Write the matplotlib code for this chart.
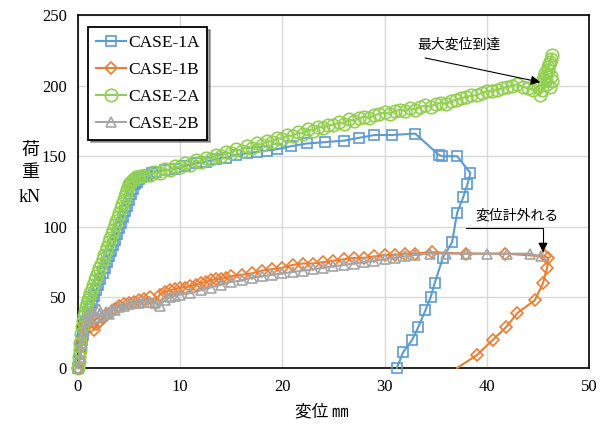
import matplotlib.pyplot as plt

plt.rcParams['font.family'] = ['Liberation Serif', 'DejaVu Sans']
jp = ['Noto Sans CJK JP', 'DejaVu Sans']

# CASE-1A
x1a = [0, 0.1, 0.2, 0.3, 0.4, 0.5, 0.6, 0.8, 1.0, 1.2, 1.4, 1.6, 1.8, 2.0, 2.2, 2.4, 2.6, 2.8, 3.0,
       3.2, 3.4, 3.6, 3.8, 4.0, 4.2, 4.4, 4.6, 4.8, 5.0, 5.2, 5.4, 5.6, 5.8, 6.0, 6.2, 6.5, 6.8, 7.2,
       7.6, 8.5, 9.5, 10.5, 11.5, 12.5, 13.5, 14.5, 15.5, 16.5, 17.5, 18.5, 19.5, 20.8,
       22.4, 24.2, 26.0, 27.5, 29.0, 30.7, 33.0, 35.3, 35.6, 37.1, 38.4, 38.1, 37.7, 37.1, 36.6, 35.7,
       34.9, 34.5, 34.0, 33.3, 32.7, 31.8, 31.2]
y1a = [0, 5, 10, 15, 20, 24, 28, 33, 38, 42, 47, 51, 55, 59, 63, 67, 71, 75, 79,
       83, 87, 91, 95, 99, 103, 107, 111, 115, 119, 123, 127, 130, 132, 134, 135, 136, 137, 138,
       139, 140, 141, 143, 145, 146, 148, 149, 151, 152, 153, 154, 155, 157,
       159, 160, 161, 163, 165, 165, 166, 151, 150, 150, 138, 130, 121, 110, 89, 78,
       60, 50, 41, 29, 20, 11, 0]

# CASE-1B
x1b = [0, 0.2, 0.4, 0.6, 0.8, 1.0, 1.3, 1.6, 1.9, 2.2, 2.5, 2.8, 3.2, 3.6, 4.0, 4.5, 5, 5.5, 6, 6.5,
       7, 7.5, 8, 8.5, 9, 9.5, 10, 10.5, 11, 11.5, 12, 12.5, 13, 13.5, 14, 14.5, 15, 16, 17, 18, 19,
       20, 21, 22, 23, 24, 25, 26, 27, 28, 29, 30, 31, 32, 33, 34.6, 38, 41.8, 45.7, 46.0, 45.9,
       45.5, 44.7, 43.0, 41.9, 40.6, 39.0, 37.1]
y1b = [0, 10, 20, 28, 32, 35, 30, 27, 31, 33, 36, 38, 40, 42, 44, 45, 46, 47, 48, 49,
       50, 46, 52, 54, 55, 56, 57, 57, 58, 59, 60, 61, 62, 63, 63, 64, 65, 66, 67, 69, 70,
       71, 73, 74, 74, 75, 76, 77, 78, 78, 79, 80, 80, 81, 81, 82, 81, 81, 79, 78, 71,
       60, 48, 39, 29, 20, 9, 0]

# CASE-2A
x2a = [0, 0.05, 0.1, 0.15, 0.2, 0.3, 0.4, 0.5, 0.6, 0.7, 0.8, 0.9, 1.0, 1.1, 1.2, 1.35, 1.5, 1.65,
       1.8, 1.95, 2.1, 2.25, 2.4, 2.55, 2.7, 2.85, 3.0, 3.15, 3.3, 3.45, 3.6, 3.75, 3.9, 4.05, 4.2,
       4.35, 4.5, 4.6, 4.7, 4.8, 4.9, 5.0, 5.1, 5.2, 5.35, 5.5, 5.7, 5.9, 6.2, 6.5, 7, 7.5, 8, 8.5,
       9, 9.5, 10, 10.5, 11, 11.5, 12, 12.5, 13, 13.5, 14, 14.5, 15, 15.5, 16, 16.5, 17, 17.5, 18,
       18.5, 19, 19.5, 20, 20.5, 21, 21.5, 22, 22.5, 23, 23.5, 24, 24.5, 25, 25.5, 26, 26.5, 27,
       27.5, 28, 28.5, 29, 29.5, 30, 30.5, 31, 31.5, 32, 32.5, 33, 33.5, 34, 34.5, 35, 35.5, 36,
       36.5, 37, 37.5, 38, 38.5, 39, 39.5, 40, 40.5, 41, 41.5, 42, 42.5, 43, 43.5, 44, 44.5, 45,
       45.2, 45.4, 45.6, 45.8, 46.0, 46.1, 46.3, 46.4, 46.2, 46.0, 45.7, 45.5, 45.9, 46.2, 46.4, 46.3]
y2a = [0, 4, 8, 13, 18, 24, 29, 33, 37, 40, 43, 46, 48, 50, 53, 56, 59, 62,
       65, 68, 71, 74, 77, 80, 83, 86, 89, 92, 95, 98, 101, 104, 107, 110, 113,
       116, 119, 122, 124, 126, 128, 130, 131, 132, 133, 134, 135, 135, 136, 136, 137, 139, 138, 141,
       140, 143, 142, 145, 144, 147, 146, 149, 148, 151, 150, 153, 152, 155, 154, 157, 156, 159, 158,
       161, 160, 163, 162, 165, 164, 167, 166, 169, 168, 171, 170, 172, 172, 174, 173, 176, 175, 177,
       178, 177, 179, 180, 181, 180, 182, 183, 182, 184, 183, 185, 186, 185, 187, 188, 187, 189,
       190, 191, 192, 193, 193, 195, 196, 196, 197, 198, 199, 200, 201, 199, 198, 197, 199,
       193, 197, 203, 207, 211, 215, 219, 222, 217, 213, 209, 205, 201, 199, 203, 207]

# CASE-2B
x2b = [0, 0.2, 0.4, 0.6, 0.8, 1.0, 1.2, 1.5, 1.8, 2.1, 2.4, 2.7, 3.0, 3.3, 3.6, 4, 4.5, 5, 5.5, 6,
       6.5, 7, 7.5, 8, 8.5, 9, 9.5, 10, 11, 12, 13, 14, 15, 16, 17, 18, 19, 20, 21, 22, 23, 24, 25,
       26, 27, 28, 29, 30, 31, 32, 33, 34.4, 36, 38, 40, 42, 44.2, 45.3]
y2b = [0, 8, 18, 26, 33, 38, 34, 40, 36, 42, 37, 40, 38, 42, 41, 43, 44, 45, 46, 46,
       47, 47, 46, 44, 48, 50, 51, 52, 53, 55, 57, 59, 61, 62, 64, 65, 66, 67, 68, 69, 70, 71, 72,
       73, 74, 75, 76, 77, 78, 79, 80, 81, 81, 81, 81, 81, 81, 79]

xticks = [0, 10, 20, 30, 40, 50]
yticks = [0, 50, 100, 150, 200, 250]

fig = plt.figure(figsize=(6.07, 4.3), dpi=100)
ax = fig.add_axes([0.1285, 0.1442, 0.8418, 0.8209])

ax.plot(x1a, y1a, color='#5B9BD5', lw=1.5, marker='s', ms=7, mfc='none', mew=1.2,
        clip_on=False, label='CASE-1A', zorder=3)
ax.plot(x1b, y1b, color='#ED7D31', lw=1.5, marker='D', ms=6, mfc='none', mew=1.2,
        markevery=slice(0, len(x1b) - 1), clip_on=False, label='CASE-1B', zorder=3)
ax.plot(x2a, y2a, color='#92D050', lw=1.5, marker='o', ms=9, mfc='none', mew=1.2,
        clip_on=False, label='CASE-2A', zorder=3)
ax.plot(x2b, y2b, color='#A5A5A5', lw=1.5, marker='^', ms=6.5, mfc='none', mew=1.2,
        clip_on=False, label='CASE-2B', zorder=3)

ax.set_xlim(0, 50)
ax.set_ylim(0, 250)
ax.set_xticks(xticks)
ax.set_yticks(yticks)
ax.tick_params(length=0, labelsize=12, pad=8)
ax.grid(color='#D9D9D9', lw=1)
ax.set_axisbelow(True)
for s in ax.spines.values():
    s.set_color('black')
    s.set_linewidth(1.2)

leg = ax.legend(loc='upper left', bbox_to_anchor=(0.02, 0.966), borderaxespad=0,
                fancybox=False, shadow=True, edgecolor='black', fontsize=12.5,
                handlelength=1.7, handletextpad=0.15, labelspacing=0.62, borderpad=0.45)
leg.get_frame().set_linewidth(1.3)
leg.get_frame().set_alpha(1)

ax.annotate('', xy=(45.5, 202), xytext=(33.7, 220),
            arrowprops=dict(arrowstyle='-|>', color='black', lw=0.8, mutation_scale=14),
            annotation_clip=False)
ax.text(37.3, 229, '最大変位到達', family=jp, fontsize=10, ha='center', va='center')

ax.annotate('', xy=(45.5, 80), xytext=(37.7, 99),
            arrowprops=dict(arrowstyle='-|>', color='black', lw=0.8, mutation_scale=14,
                            connectionstyle='angle,angleA=0,angleB=90,rad=0'),
            annotation_clip=False)
ax.text(43.0, 108, '変位計外れる', family=jp, fontsize=10, ha='center', va='center')

fig.text(30 / 607, 1 - 150 / 430, '荷', family=jp, fontsize=13, ha='center', va='center')
fig.text(30 / 607, 1 - 172 / 430, '重', family=jp, fontsize=13, ha='center', va='center')
fig.text(30 / 607, 1 - 197 / 430, 'kN', fontsize=13, ha='center', va='center')
fig.text(322 / 607, 1 - 412 / 430, '変位 ㎜', family=jp, fontsize=12, ha='center', va='center')

fig.savefig('out.png', dpi=100)
